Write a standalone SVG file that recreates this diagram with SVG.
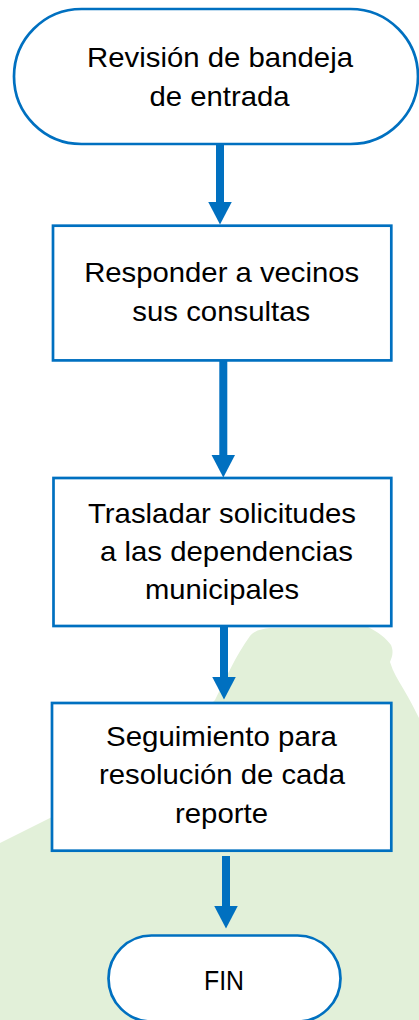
<svg xmlns="http://www.w3.org/2000/svg" width="419" height="1020" viewBox="0 0 419 1020">
  <style>
    .bg { fill: #ffffff; }
    .blob { fill: #E2F0D9; }
    .node { fill: #ffffff; stroke: #0070C0; stroke-width: 2.7; }
    .label { font-family: "Liberation Sans", Arial, sans-serif; font-size: 28px; fill: #000000; text-anchor: middle; }
    .conn { stroke: #0070C0; stroke-width: 8; fill: none; }
  </style>
  <defs>
    <marker id="head" markerUnits="userSpaceOnUse" markerWidth="23" markerHeight="24" refX="0" refY="11.75" orient="auto">
      <path d="M0,0 L22.5,11.75 L0,23.5 Z" fill="#0070C0"/>
    </marker>
  </defs>
  <rect class="bg" x="0" y="0" width="419" height="1020"/>
  <path class="blob" d="M0,843 L52,817 L150,765 L215,700 C225,680 236,655 250,636 C255,630 262,629 270,628 L368,627 C378,632 386,638 391,645 C394,652 392,657 390,662 C393,672 398,680 404,690 C410,700 415,710 419,718 L419,1020 L0,1020 Z"/>

  <g id="connectors">
    <line class="conn" x1="220" y1="145" x2="220" y2="202" marker-end="url(#head)"/>
    <line class="conn" x1="223.3" y1="361" x2="223.3" y2="455" marker-end="url(#head)"/>
    <line class="conn" x1="224" y1="627" x2="224" y2="677" marker-end="url(#head)"/>
    <line class="conn" x1="226" y1="856" x2="226" y2="906" marker-end="url(#head)"/>
  </g>

  <g id="start">
    <rect class="node" x="14" y="9" width="404" height="135" rx="67.5" ry="67.5"/>
    <text class="label" x="220" y="67" textLength="266" lengthAdjust="spacingAndGlyphs">Revisión de bandeja</text>
    <text class="label" x="219.5" y="106" textLength="140" lengthAdjust="spacingAndGlyphs">de entrada</text>
  </g>

  <g id="responder">
    <rect class="node" x="53" y="225.7" width="338.3" height="134.7"/>
    <text class="label" x="221.7" y="281.7" textLength="275" lengthAdjust="spacingAndGlyphs">Responder a vecinos</text>
    <text class="label" x="221.3" y="320.5" textLength="178" lengthAdjust="spacingAndGlyphs">sus consultas</text>
  </g>

  <g id="trasladar">
    <rect class="node" x="53.5" y="478" width="337.8" height="148"/>
    <text class="label" x="222" y="522.7" textLength="268" lengthAdjust="spacingAndGlyphs">Trasladar solicitudes</text>
    <text class="label" x="226.5" y="560.7" textLength="253" lengthAdjust="spacingAndGlyphs">a las dependencias</text>
    <text class="label" x="222" y="599.3" textLength="154" lengthAdjust="spacingAndGlyphs">municipales</text>
  </g>

  <g id="seguimiento">
    <rect class="node" x="52" y="703" width="339.3" height="147.7"/>
    <text class="label" x="221.5" y="745.7" textLength="231" lengthAdjust="spacingAndGlyphs">Seguimiento para</text>
    <text class="label" x="222" y="784" textLength="246" lengthAdjust="spacingAndGlyphs">resolución de cada</text>
    <text class="label" x="221.5" y="823" textLength="93" lengthAdjust="spacingAndGlyphs">reporte</text>
  </g>

  <g id="fin">
    <rect class="node" x="108.5" y="935.5" width="232" height="86" rx="43" ry="43"/>
    <text class="label" x="224" y="989.5" textLength="40" lengthAdjust="spacingAndGlyphs">FIN</text>
  </g>
</svg>
